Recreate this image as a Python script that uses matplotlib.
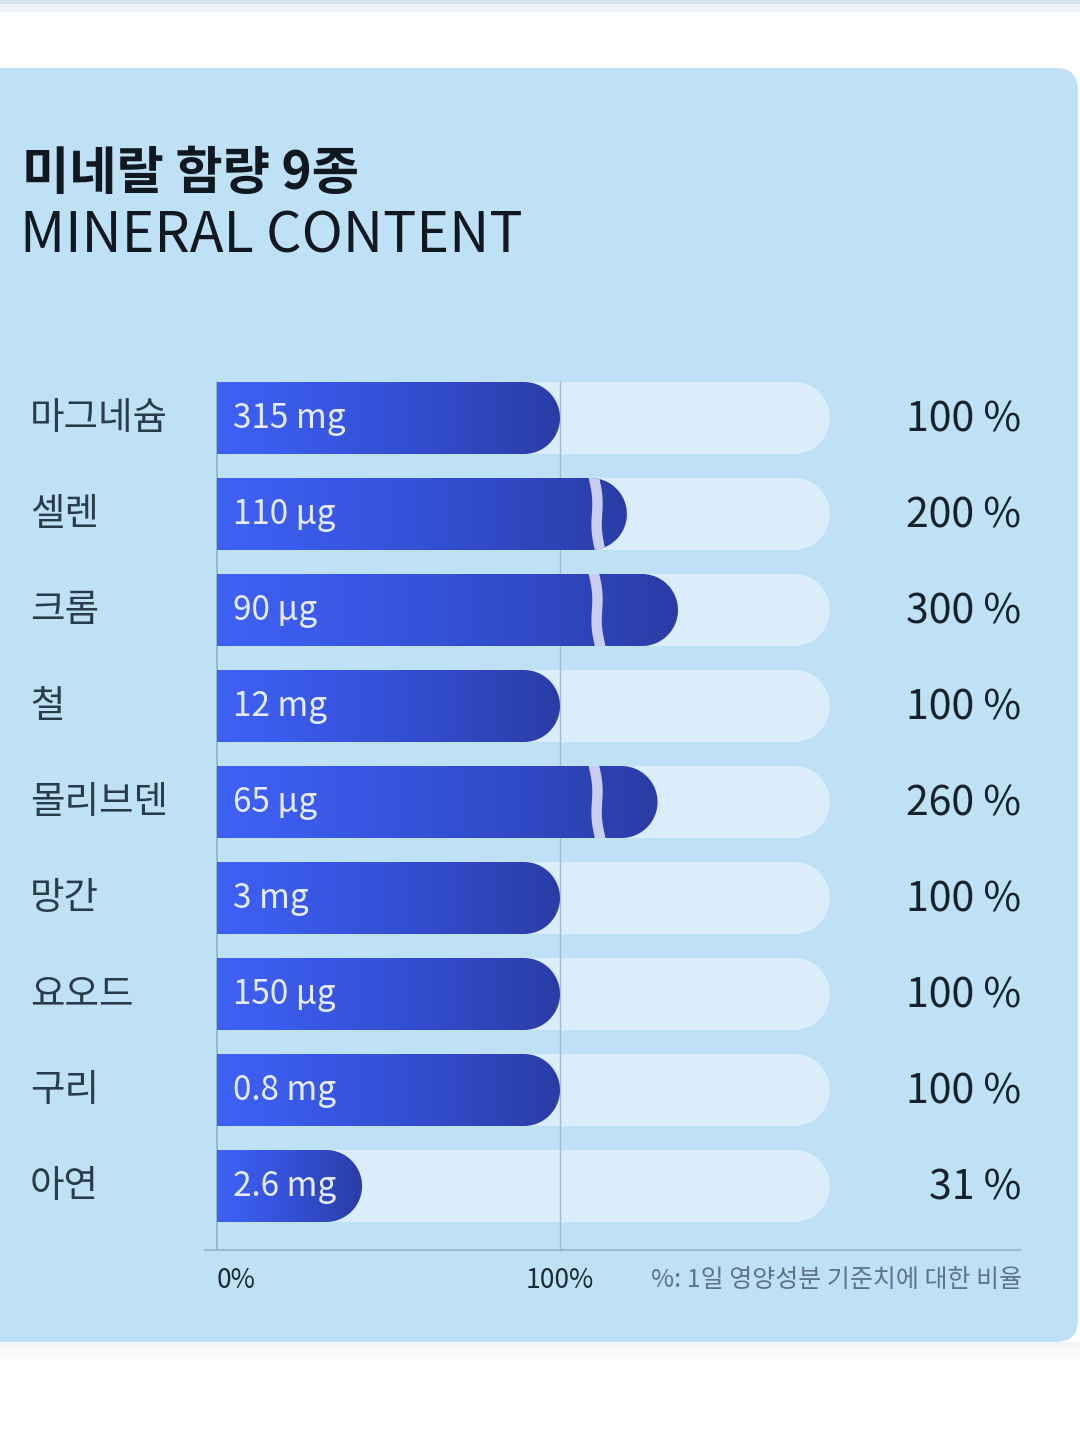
import numpy as np
import matplotlib
matplotlib.use('Agg')
import matplotlib.pyplot as plt
from matplotlib.patches import FancyBboxPatch, PathPatch, Rectangle
from matplotlib.path import Path

plt.rcParams['font.family'] = ['Noto Sans CJK KR', 'DejaVu Sans']

minerals = ['마그네슘', '셀렌', '크롬', '철', '몰리브덴', '망간', '요오드', '구리', '아연']
amounts = ['315 mg', '110 µg', '90 µg', '12 mg', '65 µg', '3 mg', '150 µg', '0.8 mg', '2.6 mg']
percents = [100, 200, 300, 100, 260, 100, 100, 100, 31]
tick_labels = ['0%', '100%']
footnote = '%: 1일 영양성분 기준치에 대한 비율'

# pixel layout
PX = 3.43        # px per percent
X0 = 217         # px of 0 %
ROW0 = 418       # px of first row centre
ROW = 96         # px between rows
HALF = 0.375     # half bar height in rows
TRACK_END = 178.7
BREAK_AT = 110.8
MIN_BAR = 42.3   # short bars still hold their label


def shown(p):
    # bars above 100 % are squeezed after an axis break
    if p <= 100:
        return max(p, MIN_BAR)
    return 104.6 + (p - 100) * 0.149


def pill(x_end, r):
    rx = 36 / PX
    t = np.linspace(-np.pi / 2, np.pi / 2, 40)
    arc_x = x_end - rx + rx * np.cos(t)
    arc_y = r + HALF * np.sin(t)
    xs = np.concatenate([[0, x_end - rx], arc_x, [0, 0]])
    ys = np.concatenate([[r - HALF, r - HALF], arc_y, [r + HALF, r - HALF]])
    verts = np.column_stack([xs, ys])
    codes = [Path.MOVETO] + [Path.LINETO] * (len(verts) - 2) + [Path.CLOSEPOLY]
    return Path(verts, codes)


fig = plt.figure(figsize=(10.8, 14.4), dpi=100)
fig.patch.set_facecolor('white')

bg = fig.add_axes([0, 0, 1, 1])
bg.set_xlim(0, 1080)
bg.set_ylim(1440, 0)
bg.axis('off')

# top strip and panel
bg.add_patch(Rectangle((0, 0), 1080, 4, color='#d6e3ef', lw=0))
bg.add_patch(Rectangle((0, 4), 1080, 8, color='#eef3f8', lw=0))
for i, a in enumerate([0.10, 0.07, 0.05, 0.03, 0.015]):
    bg.add_patch(Rectangle((0, 1342 + i * 4), 1080, 4, color='#8a9aa8', alpha=a, lw=0))
bg.add_patch(FancyBboxPatch((-60, 88), 1118, 1234,
                            boxstyle='round,pad=20,rounding_size=22',
                            fc='#bee1f6', ec='none'))

bg.text(22, 174, '미네랄 함량 9종', fontsize=37, fontweight='bold',
        color='#111820', va='center', ha='left')
bg.text(20, 237, 'MINERAL CONTENT', fontsize=40, color='#111820',
        va='center', ha='left')

ax = fig.add_axes([0, 0, 1, 1], facecolor='none')
ax.set_xlim(-X0 / PX, (1080 - X0) / PX)
ax.set_ylim((1440 - ROW0) / ROW, -ROW0 / ROW)
ax.axis('off')

n = len(minerals)
axis_y = (1250 - ROW0) / ROW
top_y = -HALF

# axis lines
ax.plot([0, 0], [top_y, axis_y], color='#8fb2c9', lw=1.2, zorder=2)
ax.plot([100, 100], [top_y, axis_y], color='#9dbcd1', lw=1.0, zorder=3)
ax.plot([(205 - X0) / PX, (1020 - X0) / PX], [axis_y, axis_y],
        color='#8fb2c9', lw=1.2, zorder=2)

grad = np.linspace(0, 1, 256).reshape(1, -1)
cmap = matplotlib.colors.LinearSegmentedColormap.from_list(
    'bar', ['#3f62f7', '#3450d6', '#2a3da6'])

for i in range(n):
    # background track
    track = PathPatch(pill(TRACK_END, i), fc='#dbedfa', ec='none', zorder=1)
    ax.add_patch(track)

    end = shown(percents[i])
    patch = PathPatch(pill(end, i), fc='none', ec='none', zorder=4)
    ax.add_patch(patch)
    im = ax.imshow(grad, cmap=cmap, aspect='auto', zorder=4,
                   extent=(0, end, i + HALF, i - HALF))
    im.set_clip_path(patch)

    if percents[i] > 100:
        t = np.linspace(0, 1, 60)
        bx = BREAK_AT + (-3.5 * np.cos(np.pi * t) + 2.5 * np.sin(2 * np.pi * t)) / PX
        by = i - HALF - 0.02 + (2 * HALF + 0.04) * t
        ln, = ax.plot(bx, by, color='#c9cdf0', lw=7.5, solid_capstyle='butt', zorder=5)
        ln.set_clip_path(patch)

    ax.text((233 - X0) / PX, i + 0.01, amounts[i], fontsize=24, color='#e6ecff',
            va='center', ha='left', zorder=6)
    ax.text((30 - X0) / PX, i + 0.01, minerals[i], fontsize=27, color='#2a3b4a',
            va='center', ha='left', zorder=6)
    ax.text((1021 - X0) / PX, i + 0.02, f'{percents[i]} %', fontsize=29.5,
            color='#17212b', va='center', ha='right', zorder=6)

tick_y = (1280 - ROW0) / ROW
ax.text(0, tick_y, tick_labels[0], fontsize=19, color='#1c2a36',
        va='center', ha='left')
ax.text(100, tick_y, tick_labels[1], fontsize=19, color='#1c2a36',
        va='center', ha='center')
ax.text((1022 - X0) / PX, tick_y, footnote, fontsize=18, color='#5f7587',
        va='center', ha='right')

fig.savefig('out.png', dpi=100)
